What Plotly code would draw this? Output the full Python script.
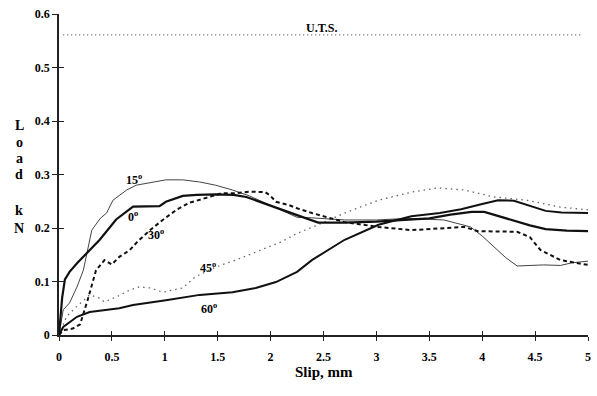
import plotly.graph_objects as go

# ---- data ----
x0 = [0, 0.03, 0.056, 0.1, 0.17, 0.29, 0.385, 0.54, 0.70, 0.95, 1.01, 1.17, 1.3, 1.48, 1.65, 1.77, 1.92, 2.1, 2.25, 2.45, 2.7, 3.0, 3.3, 3.5, 3.7, 3.9, 4.02, 4.15, 4.27, 4.45, 4.6, 4.8, 5.0]
y0 = [0, 0.07, 0.104, 0.118, 0.134, 0.158, 0.178, 0.216, 0.24, 0.241, 0.249, 0.26, 0.262, 0.263, 0.262, 0.258, 0.247, 0.234, 0.224, 0.21, 0.21, 0.212, 0.215, 0.218, 0.225, 0.23, 0.23, 0.222, 0.215, 0.205, 0.198, 0.195, 0.194]

x15 = [0, 0.04, 0.1, 0.17, 0.23, 0.27, 0.31, 0.39, 0.45, 0.51, 0.58, 0.64, 0.73, 0.86, 1.01, 1.17, 1.33, 1.48, 1.64, 1.8, 1.95, 2.1, 2.25, 2.39, 2.7, 3.0, 3.3, 3.64, 3.89, 4.0, 4.11, 4.22, 4.33, 4.45, 4.58, 4.74, 4.85, 5.0]
y15 = [0, 0.047, 0.06, 0.09, 0.121, 0.159, 0.196, 0.218, 0.228, 0.252, 0.262, 0.271, 0.28, 0.284, 0.29, 0.29, 0.286, 0.28, 0.271, 0.26, 0.247, 0.234, 0.22, 0.219, 0.215, 0.215, 0.218, 0.215, 0.202, 0.185, 0.165, 0.145, 0.129, 0.13, 0.131, 0.13, 0.135, 0.138]

x30 = [0, 0.04, 0.13, 0.2, 0.27, 0.35, 0.43, 0.5, 0.57, 0.67, 0.74, 0.86, 0.98, 1.11, 1.23, 1.42, 1.54, 1.67, 1.8, 1.95, 2.0, 2.05, 2.17, 2.25, 2.39, 2.7, 3.02, 3.33, 3.64, 3.83, 3.96, 4.33, 4.45, 4.55, 4.74, 5.0]
y30 = [0, 0.009, 0.012, 0.02, 0.065, 0.121, 0.14, 0.132, 0.146, 0.159, 0.174, 0.196, 0.215, 0.234, 0.247, 0.258, 0.265, 0.265, 0.268, 0.267, 0.26, 0.249, 0.243, 0.237, 0.228, 0.211, 0.202, 0.196, 0.2, 0.202, 0.194, 0.193, 0.183, 0.159, 0.14, 0.131]

x45 = [0, 0.07, 0.15, 0.23, 0.29, 0.37, 0.43, 0.54, 0.67, 0.76, 0.86, 0.98, 1.17, 1.29, 1.48, 1.67, 1.86, 2.1, 2.25, 2.45, 2.7, 3.02, 3.33, 3.58, 3.83, 4.11, 4.42, 4.74, 5.0]
y45 = [0, 0.034, 0.05, 0.065, 0.075, 0.07, 0.062, 0.071, 0.084, 0.09, 0.088, 0.08, 0.088, 0.109, 0.127, 0.14, 0.155, 0.174, 0.19, 0.206, 0.228, 0.252, 0.267, 0.275, 0.271, 0.258, 0.252, 0.239, 0.234]

x60 = [0, 0.04, 0.17, 0.29, 0.57, 0.7, 1.01, 1.33, 1.64, 1.86, 2.05, 2.25, 2.39, 2.7, 3.02, 3.33, 3.6, 3.8, 4.0, 4.15, 4.3, 4.45, 4.6, 4.75, 5.0]
y60 = [0, 0.015, 0.034, 0.043, 0.05, 0.056, 0.065, 0.075, 0.08, 0.088, 0.099, 0.118, 0.14, 0.178, 0.206, 0.222, 0.228, 0.235, 0.245, 0.252, 0.251, 0.242, 0.232, 0.229, 0.228]

uts_x = [0.04, 4.94]
uts_y = [0.561, 0.561]

curve_labels = ["15", "0", "30", "45", "60"]
label_x = [0.71, 0.70, 0.92, 1.41, 1.42]
label_y = [0.29, 0.222, 0.187, 0.127, 0.049]

x_ticks = [0, 0.5, 1, 1.5, 2, 2.5, 3, 3.5, 4, 4.5, 5]
x_tick_text = ["0", "0.5", "1", "1.5", "2", "2.5", "3", "3.5", "4", "4.5", "5"]
y_ticks = [0, 0.1, 0.2, 0.3, 0.4, 0.5, 0.6]
y_tick_text = ["0", "0.1", "0.2", "0.3", "0.4", "0.5", "0.6"]

SERIF = "Liberation Serif"
bold = dict(family=SERIF, size=12, color="black", weight="bold")

fig = go.Figure()
fig.add_trace(go.Scatter(x=x45, y=y45, mode="lines", line=dict(color="#666", width=1.3, dash="1.5px,4px")))
fig.add_trace(go.Scatter(x=x15, y=y15, mode="lines", line=dict(color="#444", width=1.0)))
fig.add_trace(go.Scatter(x=x30, y=y30, mode="lines", line=dict(color="#111", width=2.0, dash="4px,3px")))
fig.add_trace(go.Scatter(x=x0, y=y0, mode="lines", line=dict(color="#111", width=2.2)))
fig.add_trace(go.Scatter(x=x60, y=y60, mode="lines", line=dict(color="#111", width=2.0)))
fig.add_trace(go.Scatter(x=uts_x, y=uts_y, mode="lines", xaxis="x2", yaxis="y2",
                         line=dict(color="#333", width=1.0, dash="1px,3px")))

for t, lx, ly in zip(curve_labels, label_x, label_y):
    fig.add_annotation(x=lx, y=ly, text=t + "<sup>o</sup>", showarrow=False,
                       font=bold, xanchor="center", yanchor="middle")

fig.add_annotation(x=2.48, y=0.574, text="U.T.S.", showarrow=False, font=bold,
                   xanchor="center", yanchor="middle")

# axis titles
fig.add_annotation(x=0.5, y=(335 - 372) / 321, xref="paper", yref="paper", text="Slip, mm",
                   showarrow=False, font=dict(family=SERIF, size=15, color="black", weight="bold"),
                   xanchor="center", yanchor="middle")
letters = ["L", "o", "a", "d", "k", "N"]
letter_py = [125, 142, 158, 174, 210, 228]
for ch, py in zip(letters, letter_py):
    fig.add_annotation(x=(19 - 59) / 532, y=(335 - py) / 321, xref="paper", yref="paper", text=ch,
                       showarrow=False, font=dict(family=SERIF, size=14, color="black", weight="bold"),
                       xanchor="center", yanchor="middle")

axis_common = dict(showgrid=False, zeroline=False)
fig.update_layout(
    width=597, height=396,
    margin=dict(l=59, r=6, t=14, b=61),
    paper_bgcolor="white", plot_bgcolor="white",
    showlegend=False,
    xaxis=dict(range=[0, 5], tickvals=x_ticks, ticktext=x_tick_text, ticks="outside", ticklen=4,
               tickwidth=1.3, tickcolor="#222", showline=True, linecolor="#222", linewidth=1.5,
               tickfont=bold, ticklabelstandoff=6, **axis_common),
    yaxis=dict(range=[0, 0.6], tickvals=y_ticks, ticktext=y_tick_text, ticks="outside", ticklen=5,
               tickwidth=1.3, tickcolor="#222", showline=True, linecolor="#222", linewidth=1.5,
               tickfont=bold, **axis_common),
    xaxis2=dict(range=[0, 5], overlaying="x", anchor="y2", tickvals=x_ticks, ticks="inside", ticklen=4,
                tickwidth=1.3, tickcolor="#222", showticklabels=False, showline=False, **axis_common),
    yaxis2=dict(range=[0, 0.6], overlaying="y", anchor="x2", tickvals=y_ticks, ticks="inside", ticklen=5,
                tickwidth=1.3, tickcolor="#222", showticklabels=False, showline=False, **axis_common),
)

fig.write_html("out.html")
